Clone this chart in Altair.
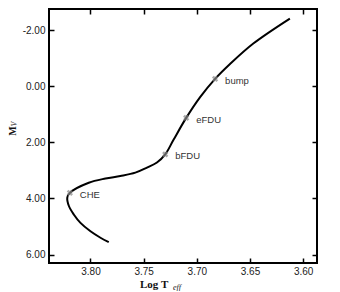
import altair as alt
import pandas as pd

# curve points ordered from the lower end upward
logT = [3.7828, 3.7906, 3.8000, 3.8094, 3.8157, 3.8203, 3.8218, 3.8194, 3.8016, 3.7859,
        3.7719, 3.7578, 3.7469, 3.7375, 3.7297, 3.7219, 3.7100, 3.6969, 3.6828, 3.6688,
        3.6469, 3.6125]
mv = [5.56, 5.40, 5.17, 4.87, 4.57, 4.27, 3.97, 3.80, 3.44, 3.29,
      3.20, 3.08, 2.90, 2.72, 2.43, 1.91, 1.13, 0.39, -0.26, -0.79,
      -1.52, -2.41]

mark_names = ["CHE", "bFDU", "eFDU", "bump"]
mark_logT = [3.8194, 3.7297, 3.7100, 3.6828]
mark_mv = [3.80, 2.43, 1.13, -0.26]

x_ticks = [3.80, 3.75, 3.70, 3.65, 3.60]
y_ticks = [-2, 0, 2, 4, 6]

curve = pd.DataFrame({"logT": logT, "mv": mv, "i": list(range(len(logT)))})
marks = pd.DataFrame({"logT": mark_logT, "mv": mark_mv, "name": mark_names})

W, H = 268, 254
xs = alt.Scale(domain=[3.587, 3.839], reverse=True, zero=False, nice=False)
ys = alt.Scale(domain=[-2.75, 6.3], reverse=True, zero=False, nice=False)

fix_minus = "replace(format(datum.value, '.2f'), '\u2212', '-')"
lab = dict(labelFont="Liberation Sans", labelFontSize=10, labelColor="#222",
           domain=False, grid=False, ticks=True, tickColor="black", tickWidth=1.5,
           tickSize=5, offset=-5, title=None, labelExpr=fix_minus)

xa = alt.Axis(values=x_ticks, labelPadding=3, **lab)
ya = alt.Axis(values=y_ticks, labelPadding=4, **lab)

line = alt.Chart(curve).mark_line(color="black", strokeWidth=2, interpolate="catmull-rom").encode(
    x=alt.X("logT:Q", scale=xs, axis=xa),
    y=alt.Y("mv:Q", scale=ys, axis=ya),
    order="i:Q",
)

pts = alt.Chart(marks).mark_point(shape="cross", angle=45, size=40, filled=True, color="#888").encode(
    x="logT:Q", y="mv:Q")

labels = alt.Chart(marks).mark_text(align="left", baseline="middle", dx=10, dy=2,
                                    font="Liberation Sans", fontSize=9.5, color="#333").encode(
    x="logT:Q", y="mv:Q", text="name:N")

main = alt.layer(line, pts, labels)

tlab = dict(domain=False, grid=False, labels=False, ticks=True, tickColor="black",
            tickWidth=1.5, tickSize=5, offset=-5, title=None)
frame = alt.Chart(curve).mark_point(opacity=0).encode(
    x=alt.X("logT:Q", scale=xs, axis=alt.Axis(orient="top", values=x_ticks, **tlab)),
    y=alt.Y("mv:Q", scale=ys, axis=alt.Axis(orient="right", values=y_ticks, **tlab)),
)

ttl = pd.DataFrame({"t": [0]})
xt1 = alt.Chart(ttl).mark_text(text="Log T", align="left", baseline="alphabetic",
                               font="Liberation Serif", fontWeight="bold", fontSize=11, color="#111").encode(
    x=alt.value(91), y=alt.value(279))
xt2 = alt.Chart(ttl).mark_text(text="eff", align="left", baseline="alphabetic",
                               font="Liberation Serif", fontStyle="italic", fontSize=8, color="#111").encode(
    x=alt.value(124), y=alt.value(281))
yt1 = alt.Chart(ttl).mark_text(text="M", align="center", baseline="alphabetic", angle=270,
                               font="Liberation Serif", fontWeight="bold", fontSize=10, color="#111").encode(
    x=alt.value(-33), y=alt.value(122))
yt2 = alt.Chart(ttl).mark_text(text="V", align="center", baseline="alphabetic", angle=270,
                               font="Liberation Serif", fontStyle="italic", fontSize=7.5, color="#111").encode(
    x=alt.value(-32), y=alt.value(115))
titles = alt.layer(xt1, xt2, yt1, yt2)

chart = alt.layer(main, frame, titles).resolve_scale(x="independent", y="independent").properties(
    width=W, height=H, padding={"left": 41, "top": 1, "right": 15, "bottom": 28},
    autosize=alt.AutoSizeParams(type="none"),
).configure_view(stroke="black", strokeWidth=2)

chart.save("out.html", embed_options={"renderer": "svg", "actions": False})
